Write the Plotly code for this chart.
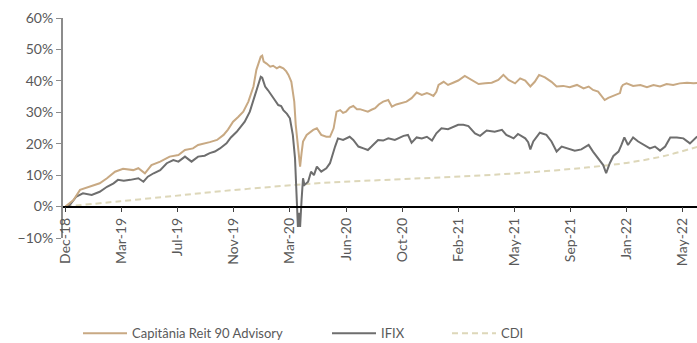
import plotly.graph_objects as go

# Trading-session index (0 = last session of Dec-18) and cumulative returns in %
cap_days = [0, 11, 20, 34, 47, 57, 68, 79, 93, 100, 109, 118, 130, 143, 155, 164, 175, 182,
            189, 198, 208, 217, 223, 230, 237, 244, 251, 258, 262, 265, 268, 270, 272, 276,
            281, 285, 290, 294, 299, 303, 306, 310, 312, 314, 316, 318, 320, 322, 324, 326,
            331, 335, 340, 345, 348, 351, 358, 363, 368, 372, 377, 381, 385, 390, 395, 400,
            404, 410, 415, 420, 425, 430, 436, 443, 448, 454, 459, 468, 475, 482, 489, 496,
            500, 505, 509, 512, 519, 525, 532, 539, 548, 558, 567, 576, 585, 594, 601, 608,
            617, 624, 631, 638, 644, 650, 658, 667, 674, 683, 692, 702, 711, 718, 724, 731,
            736, 740, 745, 750, 755, 761, 763, 765, 770, 779, 789, 798, 807, 816, 825, 834,
            843, 853, 862, 867]
cap_ret = [0.0, 2.1, 5.3, 6.3, 7.4, 9.0, 11.1, 12.0, 11.6, 12.2, 10.6, 13.2, 14.3, 15.9, 16.4,
           18.0, 18.5, 19.6, 20.1, 20.5, 21.2, 22.8, 24.5, 27.0, 28.5, 30.2, 33.4, 38.2, 43.5,
           45.5, 47.7, 48.0, 46.1, 45.5, 44.5, 44.8, 44.0, 44.5, 44.0, 43.0, 41.9, 39.7, 36.0,
           33.4, 26.0, 21.0, 18.5, 12.7, 17.0, 20.7, 22.8, 23.5, 24.4, 24.9, 24.0, 22.8, 22.2,
           22.2, 24.9, 30.2, 30.7, 29.8, 30.2, 31.5, 32.0, 31.0, 31.0, 30.5, 30.2, 30.8, 31.3,
           32.5, 33.4, 33.9, 31.8, 32.5, 32.9, 33.4, 34.5, 36.3, 35.5, 36.1, 35.8, 35.2, 36.5,
           38.7, 39.7, 38.7, 39.4, 40.1, 41.6, 40.3, 39.0, 39.2, 39.4, 40.3, 41.9, 40.3, 39.2,
           40.8, 40.1, 38.2, 39.7, 41.9, 41.1, 39.7, 38.2, 38.4, 38.0, 38.7, 37.6, 38.2, 37.1,
           36.6, 35.0, 33.9, 34.6, 35.0, 35.5, 36.1, 38.0, 38.7, 39.2, 38.4, 38.7, 38.0, 38.7,
           38.2, 39.0, 38.7, 39.2, 39.4, 39.2, 39.3]

ifix_days = [0, 6, 15, 24, 36, 47, 57, 66, 72, 80, 89, 100, 107, 113, 121, 130, 139, 148, 155,
             164, 173, 182, 191, 198, 205, 212, 221, 227, 235, 241, 246, 253, 260, 265, 268,
             270, 274, 278, 283, 287, 292, 296, 299, 304, 308, 312, 315, 317, 318, 319, 321,
             322, 324, 326, 328, 333, 337, 341, 345, 351, 358, 363, 370, 374, 381, 390, 395,
             402, 409, 415, 420, 429, 436, 443, 452, 464, 470, 475, 482, 489, 496, 503, 509,
             516, 525, 532, 539, 546, 553, 562, 569, 578, 589, 599, 605, 615, 621, 631, 635,
             638, 642, 651, 660, 667, 674, 681, 690, 699, 708, 715, 718, 724, 731, 738, 742,
             747, 752, 759, 763, 767, 772, 779, 786, 795, 802, 809, 816, 823, 830, 839, 848,
             857, 864, 867]
ifix_ret = [0.0, 0.5, 3.2, 4.2, 3.7, 4.7, 6.3, 7.4, 8.5, 8.2, 8.5, 9.0, 7.9, 9.5, 10.6, 11.6,
            13.8, 14.8, 14.3, 15.9, 14.3, 15.9, 16.2, 17.0, 17.5, 18.5, 20.1, 22.0, 23.8, 25.5,
            27.0, 30.2, 35.5, 39.7, 41.3, 41.0, 38.2, 37.0, 35.5, 34.0, 32.3, 32.0, 30.7, 29.5,
            28.1, 22.8, 15.4, 5.8, -3.0, -6.5, -2.0, -6.5, 2.0, 9.0, 6.9, 7.9, 11.1, 10.0, 12.7,
            11.1, 12.2, 13.8, 19.1, 21.7, 21.2, 22.2, 21.2, 19.1, 18.5, 18.0, 19.1, 21.2, 21.0,
            21.7, 21.2, 22.5, 22.8, 20.3, 22.0, 21.7, 22.2, 21.0, 23.3, 24.9, 24.6, 25.4, 26.0,
            26.0, 25.6, 23.3, 22.5, 24.2, 23.8, 24.4, 22.8, 21.7, 23.1, 21.7, 20.5, 18.2, 20.7,
            23.5, 22.8, 20.7, 17.5, 19.1, 18.5, 17.8, 18.2, 19.1, 19.6, 17.5, 15.4, 13.2, 10.6,
            13.8, 16.1, 17.5, 19.6, 22.0, 19.6, 22.0, 20.7, 19.6, 18.5, 19.1, 17.8, 19.1, 22.0,
            22.0, 21.7, 20.1, 21.7, 22.3]

cdi_days = [0, 75, 150, 200, 300, 350, 450, 528, 600, 660, 718, 770, 820, 867]
cdi_ret = [0.0, 1.7, 3.4, 4.6, 6.6, 7.5, 8.6, 9.4, 10.3, 11.3, 12.5, 13.9, 16.0, 19.0]

tick_days = [0, 77, 154, 231, 308, 385, 462, 539, 616, 693, 770, 847]
tick_labels = ["Dec-18", "Mar-19", "Jul-19", "Nov-19", "Mar-20", "Jun-20",
               "Oct-20", "Feb-21", "May-21", "Sep-21", "Jan-22", "May-22"]

TAN = "#C8A983"
GRAY = "#6E6E6E"
BEIGE = "#DDD7B9"
TEXT = "#595959"
FONT = "Lato"

fig = go.Figure()
fig.add_trace(go.Scatter(x=cdi_days, y=cdi_ret, name="CDI", mode="lines", showlegend=True,
                         line=dict(color=BEIGE, width=2, dash="6px,4px", shape="spline"),
                         legend="legend3"))
fig.add_trace(go.Scatter(x=ifix_days, y=ifix_ret, name="IFIX", mode="lines", showlegend=True,
                         line=dict(color=GRAY, width=2), legend="legend2"))
fig.add_trace(go.Scatter(x=cap_days, y=cap_ret, name="Capitânia Reit 90 Advisory",
                         mode="lines", showlegend=True, line=dict(color=TAN, width=2),
                         legend="legend"))

legend_common = dict(orientation="h", yref="container", xref="container",
                     yanchor="middle", y=0.028, xanchor="left",
                     font=dict(family=FONT, size=13, color=TEXT),
                     bgcolor="rgba(0,0,0,0)", itemwidth=44)

fig.update_layout(
    width=697, height=343,
    showlegend=True,
    margin=dict(l=63, r=0, t=18, b=105, autoexpand=False),
    paper_bgcolor="white", plot_bgcolor="white",
    font=dict(family=FONT, size=14, color=TEXT),
    legend=dict(x=78 / 697, **legend_common),
    legend2=dict(x=327 / 697, **legend_common),
    legend3=dict(x=447 / 697, **legend_common),
    xaxis=dict(range=[-3.4, 866.7], tickmode="array", tickvals=tick_days,
               ticktext=tick_labels, tickangle=-90, anchor="free", position=1 / 7,
               showline=True, linecolor="black", linewidth=1.5,
               ticks="outside", ticklen=5, tickcolor="#404040", tickwidth=1,
               showgrid=False, zeroline=False,
               tickfont=dict(family=FONT, size=14, color=TEXT)),
    yaxis=dict(range=[-10, 60], dtick=10, ticksuffix="%", showline=True,
               linecolor="#8C8C8C", linewidth=2, ticks="outside", ticklen=5,
               tickcolor="#8C8C8C", showgrid=False, zeroline=False,
               tickfont=dict(family=FONT, size=14, color=TEXT)),
)

fig.write_html("out.html")
